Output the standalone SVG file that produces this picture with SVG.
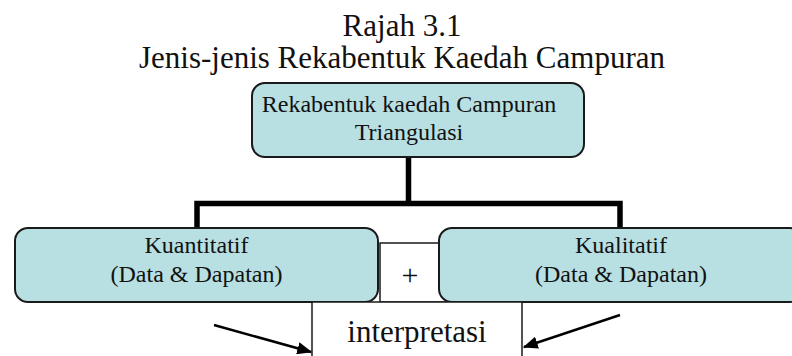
<svg xmlns="http://www.w3.org/2000/svg" width="792" height="356" viewBox="0 0 792 356">
<style>
.t{font-family:"Liberation Serif","Times New Roman",serif;fill:#111;text-anchor:middle}
.box{fill:#b8dfe2;stroke:#1a1a1a;stroke-width:2}
.wbox{fill:#fff;stroke:#1a1a1a;stroke-width:1.5}
.conn{fill:none;stroke:#000;stroke-width:5.5}
.arr{stroke:#000;stroke-width:2.5;marker-end:url(#ah)}
</style>
<defs>
<marker id="ah" markerWidth="6" markerHeight="5" refX="5.5" refY="2.5" orient="auto" markerUnits="strokeWidth">
<path d="M0,0 L6,2.5 L0,5 z" fill="#000"/>
</marker>
</defs>
<g id="title">
<text class="t" x="402" y="36" font-size="31">Rajah 3.1</text>
<text class="t" x="402" y="68" font-size="31">Jenis-jenis Rekabentuk Kaedah Campuran</text>
</g>
<g id="connectors">
<path class="conn" d="M408.5,157 V203.5 M197,228 V203.5 H620 V228"/>
</g>
<g id="top">
<rect class="box" x="252" y="83" width="332" height="74" rx="13"/>
<text class="t" x="409" y="112" font-size="24">Rekabentuk kaedah Campuran</text>
<text class="t" x="409" y="140" font-size="24">Triangulasi</text>
</g>
<g id="plus">
<rect class="wbox" x="380" y="243" width="66" height="59"/>
<text class="t" x="410" y="285" font-size="30">+</text>
</g>
<g id="kuantitatif">
<rect class="box" x="15" y="228" width="363" height="74" rx="13"/>
<text class="t" x="196.5" y="253" font-size="24">Kuantitatif</text>
<text class="t" x="196.5" y="282" font-size="24">(Data &amp; Dapatan)</text>
</g>
<g id="kualitatif">
<rect class="box" x="439" y="228" width="364" height="74" rx="13"/>
<text class="t" x="621" y="253" font-size="24">Kualitatif</text>
<text class="t" x="621" y="282" font-size="24">(Data &amp; Dapatan)</text>
</g>
<g id="interpretasi">
<rect class="wbox" x="312" y="302" width="210" height="70"/>
<text class="t" x="417" y="342" font-size="31">interpretasi</text>
</g>
<g id="arrows">
<line class="arr" x1="214" y1="325" x2="311" y2="352"/>
<line class="arr" x1="620" y1="315" x2="524" y2="347"/>
</g>
</svg>
